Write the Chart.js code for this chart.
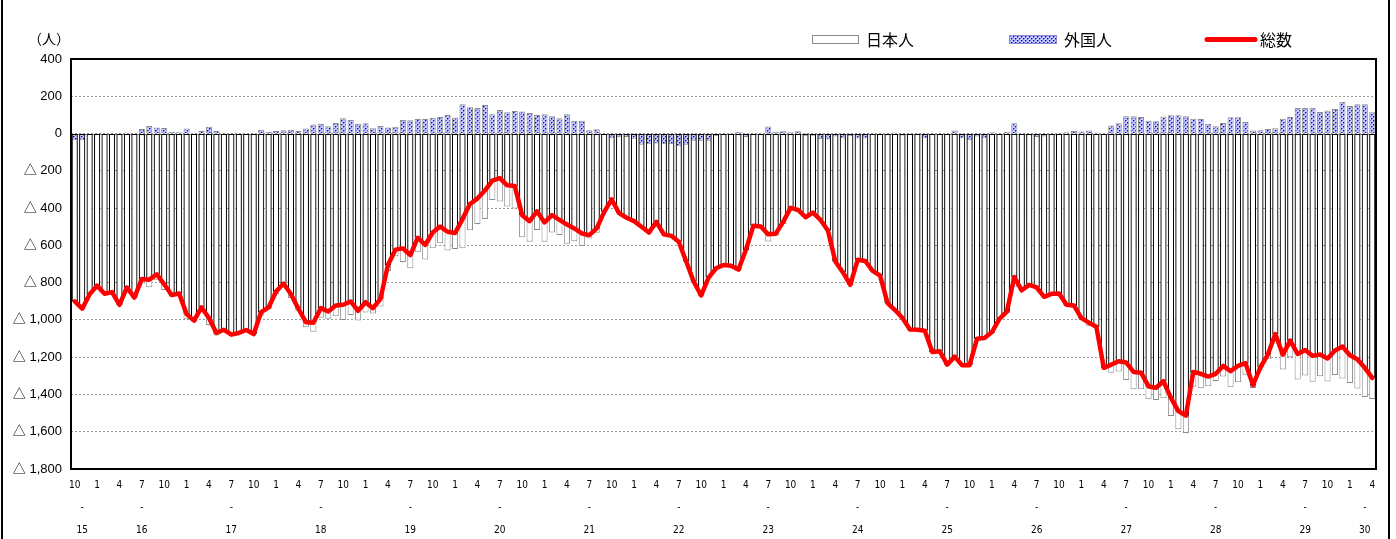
<!DOCTYPE html>
<html>
<head>
<meta charset="utf-8">
<script src="https://cdn.jsdelivr.net/npm/chart.js@4.4.1/dist/chart.umd.min.js"></script>
<style>
  html, body { margin: 0; padding: 0; background: #fff; }
</style>
</head>
<body>
<canvas id="popChart" width="1396" height="539"></canvas>
<script>
// monthly change, H15.10 - H30.4
const startYear = 15;
const startMonth = 10;

const total = [
  -901, -940, -862, -816, -860, -851, -919, -826, -880, -780,
  -784, -755, -809, -866, -858, -969, -1004, -933, -990, -1070,
  -1053, -1079, -1070, -1054, -1076, -958, -933, -848, -805, -862,
  -940, -1012, -1015, -937, -955, -923, -919, -901, -951, -905,
  -937, -887, -705, -623, -616, -652, -559, -598, -531, -499,
  -527, -534, -459, -378, -349, -306, -253, -239, -278, -281,
  -438, -470, -417, -477, -438, -463, -488, -509, -536, -545,
  -509, -420, -353, -427, -452, -470, -500, -531, -474, -541,
  -549, -581, -687, -794, -869, -773, -723, -705, -709, -730,
  -625, -495, -499, -541, -538, -474, -399, -410, -449, -424,
  -463, -520, -687, -744, -812, -677, -684, -737, -762, -910,
  -947, -990, -1051, -1053, -1058, -1172, -1168, -1240, -1197, -1243,
  -1243, -1101, -1097, -1065, -994, -955, -770, -841, -812, -826,
  -876, -860, -858, -919, -923, -990, -1015, -1037, -1257, -1240,
  -1222, -1229, -1279, -1283, -1357, -1364, -1329, -1418, -1489, -1514,
  -1279, -1289, -1304, -1289, -1247, -1275, -1247, -1232, -1350, -1254,
  -1186, -1076, -1186, -1111, -1183, -1161, -1193, -1186, -1207, -1164,
  -1143, -1190, -1211, -1257, -1311
];

const foreign = [
  -36, -36, -5, 1, 0, 0, 2, 5, 2, 25,
  41, 32, 30, 9, 7, 27, 4, 14, 37, 14,
  4, -9, -3, -7, -3, 20, 9, 14, 18, 20,
  14, 27, 48, 52, 39, 57, 82, 73, 52, 55,
  28, 41, 32, 36, 73, 71, 78, 78, 85, 89,
  100, 85, 157, 141, 137, 153, 103, 126, 114, 121,
  118, 110, 100, 103, 93, 82, 103, 69, 68, 18,
  23, -3, -25, -20, -18, -28, -60, -57, -53, -57,
  -57, -68, -60, -39, -39, -39, -14, -5, -3, 8,
  -18, -8, 3, 38, 9, 12, 7, 12, -12, -12,
  -30, -32, -16, -27, -14, -27, -27, -3, 0, -8,
  5, -10, 3, 3, -25, 3, 3, 3, 16, -25,
  -36, -16, -25, 7, -7, 9, 55, 3, -5, -18,
  -16, -3, 4, 7, 14, 11, 16, 5, 0, 43,
  55, 93, 93, 89, 69, 66, 91, 98, 98, 93,
  80, 78, 52, 39, 57, 87, 87, 62, 16, 18,
  25, 29, 80, 89, 137, 137, 139, 116, 123, 132,
  171, 148, 157, 157, 114
];

const japanese = [
  -865, -904, -857, -817, -860, -851, -921, -831, -882, -805,
  -825, -787, -839, -875, -865, -996, -1008, -947, -1027, -1084,
  -1057, -1070, -1067, -1047, -1073, -978, -942, -862, -823, -882,
  -954, -1039, -1063, -989, -994, -980, -1001, -974, -1003, -960,
  -965, -928, -737, -659, -689, -723, -637, -676, -616, -588,
  -627, -619, -616, -519, -486, -459, -356, -365, -392, -402,
  -556, -580, -517, -580, -531, -545, -591, -578, -604, -563,
  -532, -417, -328, -407, -434, -442, -440, -474, -421, -484,
  -492, -513, -627, -755, -830, -734, -709, -700, -706, -738,
  -607, -487, -502, -579, -547, -486, -406, -422, -437, -412,
  -433, -488, -671, -717, -798, -650, -657, -734, -762, -902,
  -952, -980, -1054, -1056, -1033, -1175, -1171, -1243, -1213, -1218,
  -1207, -1085, -1072, -1072, -987, -964, -825, -844, -807, -808,
  -860, -857, -862, -926, -937, -1001, -1031, -1042, -1257, -1283,
  -1277, -1322, -1372, -1372, -1426, -1430, -1420, -1516, -1587, -1607,
  -1359, -1367, -1356, -1328, -1304, -1362, -1334, -1294, -1366, -1272,
  -1211, -1105, -1266, -1200, -1320, -1298, -1332, -1302, -1330, -1296,
  -1314, -1338, -1368, -1414, -1425
];

// y axis
const yMin = -1800;
const yMax = 400;
const yStep = 200;

// month ticks shown, and where the year labels sit (others at month 7)
const shownMonths = [1, 4, 7, 10];
const yearLabelIndex = { 15: 1, 30: 173 };

// category labels "15.10" ...
const categories = [];
const monthOf = [];
const yearOf = [];
for (let i = 0; i < total.length; i++) {
  const m = (startMonth - 1 + i) % 12 + 1;
  const y = startYear + Math.floor((startMonth - 1 + i) / 12);
  monthOf.push(m);
  yearOf.push(y);
  categories.push(y + '.' + m);
}

// dotted blue fill for the foreign bars
const makeDotPattern = () => {
  const tile = document.createElement('canvas');
  tile.width = 4;
  tile.height = 4;
  const t = tile.getContext('2d');
  t.fillStyle = '#c4c8ff';
  t.fillRect(0, 0, 4, 4);
  t.fillStyle = '#0000ff';
  t.fillRect(1, 0, 1, 1);
  t.fillRect(3, 2, 1, 1);
  t.fillStyle = '#6a70ff';
  t.fillRect(2, 0, 1, 1);
  t.fillRect(0, 2, 1, 1);
  t.fillRect(1, 1, 1, 1);
  t.fillRect(3, 3, 1, 1);
  return t.createPattern(tile, 'repeat');
};
const dotPattern = makeDotPattern();

const fmt = (v) => {
  const s = Math.abs(v).toLocaleString('en-US');
  return v < 0 ? '△ ' + s : s;
};

// frame, zero line, unit and legend
const decor = {
  id: 'decor',
  beforeDatasetsDraw(chart) {
    const { ctx, chartArea: a, scales } = chart;
    const y0 = Math.round(scales.y.getPixelForValue(0)) + 0.5;
    ctx.save();
    ctx.strokeStyle = '#808080';
    ctx.lineWidth = 1;
    ctx.beginPath();
    ctx.moveTo(a.left, y0);
    ctx.lineTo(a.right, y0);
    ctx.stroke();
    ctx.restore();
  },
  afterDraw(chart) {
    const { ctx, chartArea: a } = chart;
    ctx.save();
    ctx.strokeStyle = '#000';
    ctx.lineWidth = 2;
    ctx.strokeRect(a.left, a.top, a.right - a.left, a.bottom - a.top);

    // outer frame
    ctx.beginPath();
    ctx.moveTo(2, 0);
    ctx.lineTo(2, 539);
    ctx.moveTo(1389, 0);
    ctx.lineTo(1389, 539);
    ctx.stroke();

    ctx.fillStyle = '#000';
    ctx.textBaseline = 'middle';
    ctx.textAlign = 'left';
    ctx.font = '14px "Noto Sans CJK JP"';
    ctx.fillText('（人）', 28, 39);

    // legend
    ctx.font = '16px "Noto Sans CJK JP"';
    ctx.fillStyle = '#fff';
    ctx.fillRect(812, 35, 46, 8);
    ctx.strokeStyle = '#8a8a8a';
    ctx.lineWidth = 1;
    ctx.strokeRect(812.5, 35.5, 46, 8);
    ctx.fillStyle = '#000';
    ctx.fillText('日本人', 866, 40);

    ctx.fillStyle = dotPattern;
    ctx.fillRect(1009, 35, 47, 8);
    ctx.strokeStyle = '#8a8acc';
    ctx.strokeRect(1009.5, 35.5, 47, 8);
    ctx.fillStyle = '#000';
    ctx.fillText('外国人', 1064, 40);

    ctx.strokeStyle = '#ff0000';
    ctx.lineWidth = 5;
    ctx.lineCap = 'round';
    ctx.beginPath();
    ctx.moveTo(1207, 39.5);
    ctx.lineTo(1255, 39.5);
    ctx.stroke();
    ctx.fillText('総数', 1260, 40);
    ctx.restore();
  }
};

const createChart = () => {
  const ctx = document.getElementById('popChart').getContext('2d');
  new Chart(ctx, {
    type: 'bar',
    data: {
      labels: categories,
      datasets: [
        {
          type: 'line',
          label: '総数',
          data: total,
          borderColor: '#ff0000',
          borderWidth: 4.5,
          pointRadius: 0,
          tension: 0,
          borderJoinStyle: 'round',
          borderCapStyle: 'round',
          stack: 'line',
          order: 0,
        },
        {
          label: '総数枠',
          data: total,
          backgroundColor: 'rgba(0,0,0,0)',
          borderColor: '#000',
          borderWidth: 1,
          borderSkipped: false,
          grouped: false,
          stack: 'frame',
          order: 1,
          barPercentage: 0.82,
          categoryPercentage: 1,
        },
        {
          label: '外国人',
          data: foreign,
          backgroundColor: dotPattern,
          borderColor: '#8c8c8c',
          borderWidth: 1,
          stack: 'bars',
          order: 2,
          barPercentage: 0.82,
          categoryPercentage: 1,
        },
        {
          label: '日本人',
          data: japanese,
          backgroundColor: '#fff',
          borderColor: '#8c8c8c',
          borderWidth: 1,
          stack: 'bars',
          order: 3,
          barPercentage: 0.82,
          categoryPercentage: 1,
        },
      ],
    },
    options: {
      responsive: false,
      animation: false,
      layout: { padding: { top: 59, right: 20, left: 0, bottom: 0 } },
      plugins: {
        legend: { display: false },
        tooltip: { enabled: false },
      },
      scales: {
        x: {
          stacked: true,
          grid: { display: false },
          border: { display: false },
          afterFit: (scale) => { scale.height = 70; },
          ticks: {
            autoSkip: false,
            maxRotation: 0,
            minRotation: 0,
            padding: -3,
            color: '#000',
            font: { family: '"Liberation Sans Narrow", "DejaVu Sans Condensed", sans-serif', size: 10, lineHeight: 2.25 },
            callback: (val, i) => {
              const m = monthOf[i];
              const y = yearOf[i];
              const mTxt = shownMonths.includes(m) ? String(m) : '';
              let yTxt = '';
              if (yearLabelIndex[y] !== undefined) {
                if (yearLabelIndex[y] === i) yTxt = String(y);
              } else if (m === 7) {
                yTxt = String(y);
              }
              return [mTxt, yTxt ? '-' : '', yTxt];
            },
          },
        },
        y: {
          stacked: true,
          min: yMin,
          max: yMax,
          afterFit: (scale) => { scale.width = 71; },
          grid: { color: '#9a9a9a', lineWidth: 1, drawTicks: false },
          border: { display: false, dash: [2, 2] },
          ticks: {
            stepSize: yStep,
            padding: 9,
            color: '#000',
            font: { family: '"Liberation Sans", "Noto Sans CJK JP", sans-serif', size: 13 },
            callback: (v) => fmt(v),
          },
        },
      },
    },
    plugins: [decor],
  });
};

createChart();
</script>
</body>
</html>
